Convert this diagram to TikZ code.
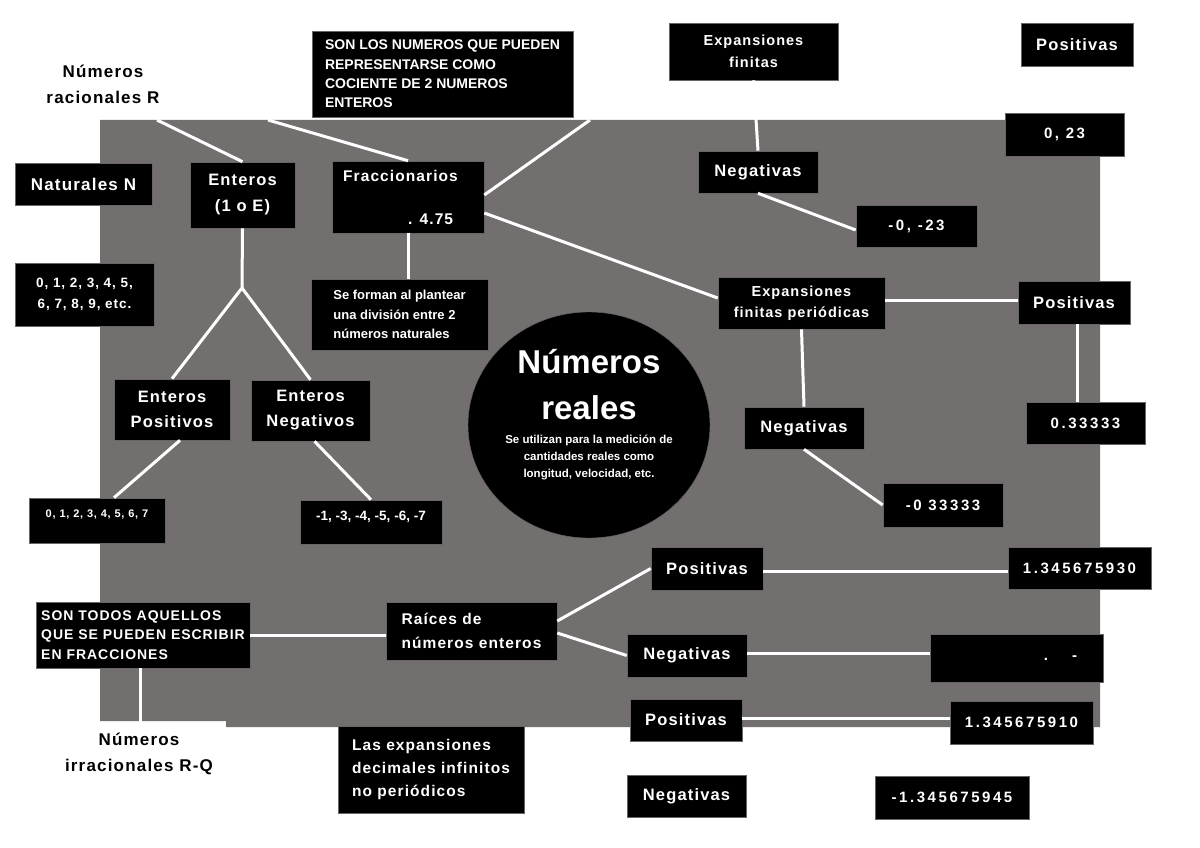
\documentclass[tikz,border=0pt]{standalone}
\usepackage{fontspec}
\setmainfont{Liberation Sans}
\newfontfamily\lsfont[LetterSpace=7]{Liberation Sans}
\newfontfamily\numfont[LetterSpace=17]{Liberation Sans}
\newcommand\fsz[2]{\fontsize{#1}{#2}\selectfont}
\usepackage{tikz}
\usetikzlibrary{shapes.geometric}
\definecolor{fondo}{RGB}{115,111,111}

\begin{document}
\begin{tikzpicture}[x=1pt, y=-1pt, % pixel coordinates, y downwards
          box/.style={draw=black!60, line width=0.6pt, fill=black, text=white, inner sep=4pt, align=center, font=\lsfont\bfseries\fsz{16.5}{25}},
          wh/.style 2 args={minimum width=#1pt, minimum height=#2pt},
          num/.style={font=\numfont\bfseries\fsz{15}{20}},
          caps/.style={align=left, font=\bfseries\fsz{14}{19.3}},
          plain/.style={align=center, font=\lsfont\bfseries\fsz{17}{26}},
          link/.style={draw=white, line width=3pt}
        ]
        \useasboundingbox (0,0) rectangle (1200,848);
        \fill[white] (0,0) rectangle (1200,848);
        % Fondo gris
        \fill[fondo] (100,120) -- (1100,120) -- (1100,727) -- (226,727) -- (226,721) -- (100,721) -- cycle;

        % Racionales
        \node[plain] (racionales) at (103,84) {Números\\racionales R};
        \node[box, caps, wh={261}{86}] (sonlos) at (442.5,74) {SON LOS NUMEROS QUE PUEDEN\\REPRESENTARSE COMO\\COCIENTE DE 2 NUMEROS\\ENTEROS};
        \node[box, wh={137}{42}, font=\lsfont\bfseries\fsz{17}{25}] (naturales) at (83.5,184) {Naturales N};
        \node[box, wh={139}{63}, font=\lsfont\bfseries\fsz{13.5}{21}] (nat09) at (84.5,294.5) {0, 1, 2, 3, 4, 5,\\6, 7, 8, 9, etc.};
        \node[box, wh={105}{66}, font=\lsfont\bfseries\fsz{16.5}{26}] (enteros) at (242.5,195) {Enteros\\(1 o E)};
        \node[box, align=left, wh={152}{72}, font=\lsfont\bfseries\fsz{15.5}{20}] (fracc) at (408,197) {Fraccionarios\hspace*{15pt}\\[23pt]\hspace*{65pt}. 4.75};
        \node[box, align=left, wh={177}{71}, font=\bfseries\fsz{13}{19.5}] (seforman) at (399.5,314.5) {Se forman al plantear\\una división entre 2\\números naturales};
        \node[box, wh={116}{61}] (entpos) at (172,409.5) {Enteros\\Positivos};
        \node[box, wh={119}{61}] (entneg) at (310.5,410.5) {Enteros\\Negativos};
        \node[box, wh={136}{45}, font=\lsfont\bfseries\fsz{11}{14}, text height=15pt, text depth=21pt, inner ysep=4.5pt] (int07) at (97,520.5) {0, 1, 2, 3, 4, 5, 6, 7};
        \node[box, wh={142}{44}, font=\bfseries\fsz{13.5}{16}, text height=16pt, text depth=19pt, inner ysep=4.5pt] (intneg) at (371,522) {-1, -3, -4, -5, -6, -7};

        % Numeros reales
        \node[ellipse, fill=black, draw=black!60, minimum width=242pt, minimum height=226pt, inner sep=0pt] (reales) at (589,425) {};
        \node[text=white, align=center, font=\bfseries\fsz{33}{46}] (realesT) at (589,385) {Números\\reales};
        \node[text=white, align=center, font=\bfseries\fsz{11.5}{17}] (realesN) at (589,457) {Se utilizan para la medición de\\cantidades reales como\\longitud, velocidad, etc.};

        % Expansiones finitas
        \node[box, wh={169}{57}, font=\lsfont\bfseries\fsz{14.5}{22}] (expfin) at (753.5,51.5) {Expansiones\\finitas};
        \node[box, wh={112}{43}] (posA) at (1077,44.5) {Positivas};
        \node[box, num, wh={119}{43}] (v023) at (1064.5,134.5) {0, 23};
        \node[box, wh={120}{42}] (negA) at (758,172) {Negativas};
        \node[box, num, wh={121}{42}] (vm023) at (916.5,226) {-0, -23};

        % Expansiones periodicas
        \node[box, wh={167}{52}, font=\lsfont\bfseries\fsz{14.5}{21}] (expper) at (801.5,303) {Expansiones\\finitas periódicas};
        \node[box, wh={112}{43}] (posB) at (1074,302.5) {Positivas};
        \node[box, num, wh={119}{42}] (v033) at (1085.5,423) {0.33333};
        \node[box, wh={120}{42}] (negB) at (804,428) {Negativas};
        \node[box, num, wh={120}{44}] (vm033) at (943,505) {-0 33333};

        % Irracionales
        \node[box, align=left, wh={214}{66}, font=\lsfont\bfseries\fsz{14}{19.3}] (sontodos) at (143,635) {SON TODOS AQUELLOS\\QUE SE PUEDEN ESCRIBIR\\EN FRACCIONES};
        \node[plain] (irrac) at (139,754) {Números\\irracionales R-Q};
        \node[box, align=left, wh={171}{58}, font=\lsfont\bfseries\fsz{15.5}{24}] (raices) at (471.5,631) {Raíces de\\números enteros};
        \node[box, align=left, wh={186}{87}, font=\lsfont\bfseries\fsz{15.5}{23}] (lasexp) at (431,769.5) {Las expansiones\\decimales infinitos\\no periódicos};
        \node[box, wh={112}{43}] (posC) at (707,568.5) {Positivas};
        \node[box, num, wh={143}{42}] (v930) at (1079.5,568) {1.345675930};
        \node[box, wh={120}{43}] (negC) at (687,655.5) {Negativas};
        \node[box, num, wh={173}{48}] (vdot) at (1016.5,658) {\hspace*{88pt}.\hspace{24pt}-};
        \node[box, wh={112}{42}] (posD) at (686,720) {Positivas};
        \node[box, num, wh={143}{43}] (v910) at (1021.5,722.5) {1.345675910};
        \node[box, wh={119}{42}] (negD) at (686.5,796) {Negativas};
        \node[box, num, wh={154}{43}] (vm945) at (952,797.5) {-1.345675945};

        % Conectores
        \coordinate (racE) at (157,120);
        \coordinate (racF) at (268,120);
        \coordinate (fraccD) at (590,120);
        \coordinate (split) at (242,288);
        \draw[link] (racE) -- (enteros.north);
        \draw[link] (racF) -- (fracc.north);
        \draw[link] (fraccD) -- ([yshift=2pt]fracc.east);
        \draw[link] ([yshift=-16pt]fracc.east) -- ([yshift=5pt]expper.west);
        \draw[link] (fracc.south) -- (fracc.south |- seforman.north);
        \draw[link] (enteros.south) -- (split) -- (entpos.north);
        \draw[link] (split) -- (entneg.north);
        \draw[link] ([xshift=8pt]entpos.south) -- ([xshift=17pt]int07.north);
        \draw[link] ([xshift=4pt]entneg.south) -- (intneg.north);
        \draw[link] (expfin.south) -- (negA.north);
        \draw[link] (negA.south) -- ([yshift=-4pt]vm023.west);
        \draw[link] ([yshift=3pt]expper.east) -- ([yshift=3pt]expper.east -| posB.west);
        \draw[link] ([xshift=3pt]posB.south) -- ([xshift=3pt]posB.south |- v033.north);
        \draw[link] (expper.south) -- (negB.north);
        \draw[link] (negB.south) -- (vm033.west);
        \draw[link] (sontodos.east) -- (sontodos.east -| raices.west);
        \draw[link] ([xshift=-3pt]sontodos.south) -- ([xshift=-3pt]sontodos.south |- irrac.north);
        \draw[link] ([yshift=10pt]raices.east) -- (posC.west);
        \draw[link] ([yshift=-2pt]raices.east) -- (negC.west);
        \draw[link] ([yshift=-3pt]posC.east) -- ([yshift=-3pt]posC.east -| v930.west);
        \draw[link] ([yshift=2pt]negC.east) -- ([yshift=2pt]negC.east -| vdot.west);
        \draw[link] ([yshift=2pt]posD.east) -- ([yshift=2pt]posD.east -| v910.west);

        \end{tikzpicture}
\end{document}
